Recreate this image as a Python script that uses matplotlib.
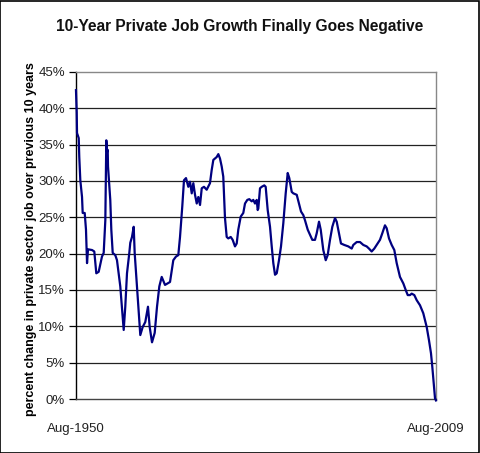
import matplotlib
matplotlib.use("Agg")
import matplotlib.pyplot as plt
from matplotlib.patches import Rectangle

plt.rcParams['font.family'] = ['Liberation Sans', 'DejaVu Sans']

title = "10-Year Private Job Growth Finally Goes Negative"
ylabel = "percent change in private sector job over previous 10 years"
x_labels = ["Aug-1950", "Aug-2009"]
x_start, x_end = 1950.583, 2009.583

years = [1950.58, 1950.70, 1950.75, 1951.03, 1951.12, 1951.29, 1951.57, 1951.68, 1952.01, 1952.22,
         1952.39, 1952.55, 1953.21, 1953.58, 1953.91, 1954.30, 1954.84, 1955.12, 1955.39, 1955.55,
         1955.67, 1955.78, 1955.83, 1956.20, 1956.37, 1956.60, 1957.02, 1957.30, 1957.84, 1958.40,
         1958.66, 1958.94, 1959.32, 1959.48, 1959.76, 1960.04, 1960.20, 1960.58, 1961.12, 1961.51,
         1961.94, 1962.38, 1962.66, 1963.04, 1963.48, 1963.86, 1964.24, 1964.63, 1965.17, 1965.99,
         1966.53, 1966.97, 1967.35, 1967.63, 1968.00, 1968.28, 1968.61, 1968.99, 1969.27, 1969.55,
         1969.81, 1970.09, 1970.37, 1970.63, 1970.91, 1971.19, 1971.56, 1972.00, 1972.54, 1972.82,
         1973.09, 1973.64, 1973.91, 1974.18, 1974.46, 1974.72, 1975.00, 1975.28, 1975.54, 1975.94,
         1976.26, 1976.64, 1976.92, 1977.18, 1977.58, 1978.00, 1978.28, 1978.66, 1978.99, 1979.38,
         1979.64, 1979.92, 1980.20, 1980.36, 1980.46, 1980.74, 1981.02, 1981.44, 1981.67, 1982.00,
         1982.38, 1982.66, 1982.92, 1983.20, 1983.48, 1983.85, 1984.18, 1984.56, 1984.95, 1985.28,
         1985.54, 1985.94, 1986.20, 1986.76, 1987.13, 1987.46, 1987.84, 1988.11, 1988.56, 1988.93,
         1989.31, 1989.75, 1990.03, 1990.41, 1990.69, 1991.11, 1991.51, 1991.83, 1992.21, 1992.59,
         1993.03, 1993.31, 1993.69, 1994.01, 1994.55, 1995.21, 1995.77, 1996.03, 1996.59, 1997.13,
         1997.67, 1998.22, 1998.60, 1999.04, 1999.47, 1999.86, 2000.40, 2000.78, 2001.22, 2001.50,
         2001.88, 2002.32, 2002.75, 2003.14, 2003.68, 2004.23, 2004.62, 2004.95, 2005.32, 2005.60,
         2006.03, 2006.42, 2006.96, 2007.50, 2008.06, 2008.43, 2008.76, 2008.98, 2009.21, 2009.42,
         2009.58]

growth = [42.5, 39.4, 36.6, 35.9, 33.3, 30.1, 27.8, 25.6, 25.6, 23.3,
          18.7, 20.6, 20.5, 20.3, 17.3, 17.5, 19.6, 20.1, 24.6, 35.6,
          34.0, 34.3, 32.0, 27.4, 23.3, 20.1, 19.8, 19.1, 15.5, 9.5,
          12.7, 17.3, 20.1, 21.5, 22.3, 23.7, 20.1, 15.5, 8.8, 9.9,
          10.6, 12.7, 9.9, 7.8, 9.1, 12.7, 15.5, 16.8, 15.7, 16.1,
          19.1, 19.6, 19.8, 22.3, 26.5, 30.1, 30.4, 29.2, 29.9, 28.3,
          29.7, 28.1, 26.9, 27.8, 26.7, 29.0, 29.2, 28.8, 29.7, 31.5,
          32.9, 33.3, 33.7, 33.1, 32.0, 30.6, 24.9, 22.3, 22.1, 22.3,
          21.9, 21.0, 21.4, 23.3, 25.1, 25.6, 26.9, 27.4, 27.5, 27.2,
          27.4, 26.9, 27.4, 26.0, 26.2, 29.0, 29.2, 29.4, 29.2, 26.0,
          23.7, 21.0, 18.7, 17.1, 17.3, 19.1, 21.0, 24.2, 28.3, 31.1,
          30.4, 28.5, 28.3, 28.1, 26.9, 25.8, 25.3, 24.6, 23.3, 22.6,
          21.9, 21.9, 22.8, 24.4, 23.3, 20.5, 19.1, 19.8, 21.9, 23.7,
          24.9, 24.4, 22.8, 21.4, 21.2, 21.0, 20.7, 21.2, 21.6, 21.6,
          21.2, 21.0, 20.7, 20.3, 20.7, 21.2, 21.9, 22.8, 23.9, 23.5,
          22.1, 21.2, 20.5, 18.7, 16.8, 15.9, 15.0, 14.3, 14.3, 14.5,
          14.3, 13.6, 12.9, 11.8, 9.9, 8.1, 6.3, 4.4, 2.2, 0.1,
          -0.2]

y_ticks = [0, 5, 10, 15, 20, 25, 30, 35, 40, 45]

fig = plt.figure(figsize=(4.8, 4.53), dpi=100)
fig.patches.append(Rectangle((0.001, 0.001), 0.997, 0.997, transform=fig.transFigure,
                             fill=False, edgecolor='black', linewidth=1.2))
ax = fig.add_axes([76/480, 1-399/453, 360/480, 327/453])

for t in y_ticks[1:-1]:
    ax.axhline(t, color='#222222', linewidth=0.9, zorder=1)
ax.plot(years, growth, color='#000080', linewidth=1.6, zorder=3, clip_on=False)

ax.set_xlim(x_start, x_end)
ax.set_ylim(0, 45)
ax.set_yticks(y_ticks)
ax.set_yticklabels([f"{t}%" for t in y_ticks], fontsize=9.5, color='#222222')
ax.tick_params(axis='y', direction='out', length=5, width=0.9, pad=3)
ax.set_xticks([x_start, x_end])
ax.set_xticklabels(x_labels, fontsize=9.5, color='#222222')
ax.tick_params(axis='x', length=0, pad=17)

ax.spines['left'].set_color('black')
ax.spines['bottom'].set_color('#444444')
ax.spines['top'].set_color('#888888')
ax.spines['right'].set_color('#888888')
for s in ax.spines.values():
    s.set_linewidth(1.0)

ax.set_ylabel(ylabel, fontsize=9.0, fontweight='bold')
ax.yaxis.set_label_coords(-0.108, 0.49)
fig.text(0.5, 1-27/453, title, ha='center', va='center', fontsize=11.2,
         fontweight='bold', color='#111111')

fig.savefig("out.png", dpi=100)
